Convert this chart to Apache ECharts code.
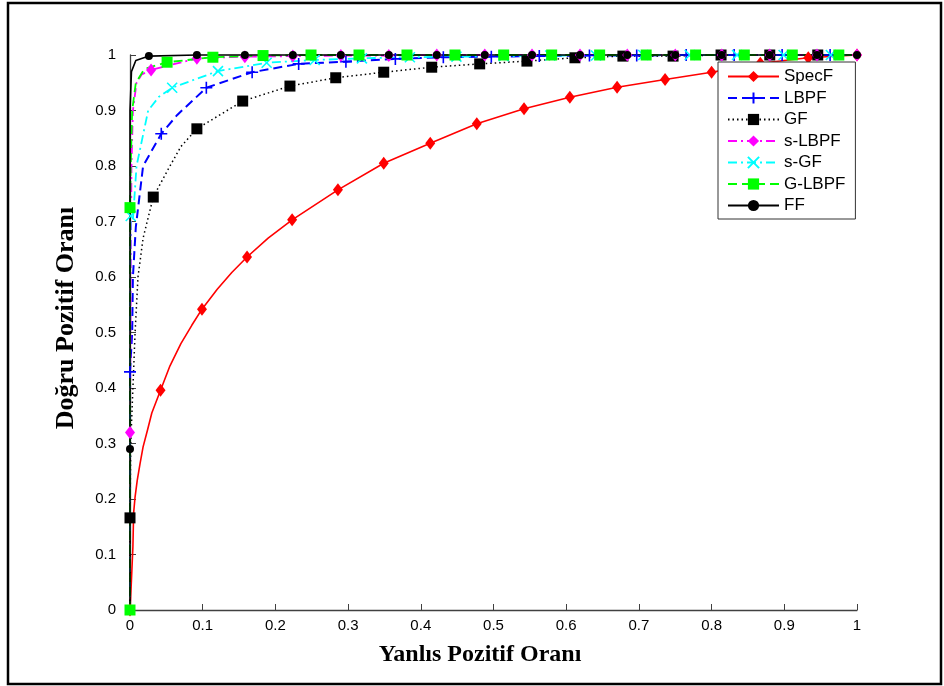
<!DOCTYPE html>
<html><head><meta charset="utf-8">
<script src="https://cdn.jsdelivr.net/npm/echarts@6/dist/echarts.min.js"></script>
<style>html,body{margin:0;padding:0;background:#fff}#c{width:944px;height:686px}</style>
</head><body><div id="c"></div>
<script>
// ---- data ----
const xTicks = [0,0.1,0.2,0.3,0.4,0.5,0.6,0.7,0.8,0.9,1];
const seriesNames = ['SpecF','LBPF','GF','s-LBPF','s-GF','G-LBPF','FF'];
const xTitle = 'Yanlıs Pozitif Oranı';
const yTitle = 'Doğru Pozitif Oranı';

const specF_marks = [[0,0],[0.042,0.396],[0.099,0.542],[0.161,0.636],[0.223,0.703],[0.286,0.757],[0.349,0.805],[0.413,0.841],[0.477,0.876],[0.542,0.903],[0.605,0.924],[0.67,0.942],[0.736,0.956],[0.8,0.969],[0.867,0.985],[0.933,0.995],[1,1]];
const specF_line = [[0.002,0.054],[0.004,0.114],[0.005,0.175],[0.007,0.204],[0.010,0.234],[0.014,0.265],[0.018,0.294],[0.024,0.324],[0.030,0.355],[0.055,0.44],[0.07,0.48],[0.085,0.513],[0.12,0.578],[0.14,0.608],[0.19,0.67]];

const lbpf_marks = [[0,0.429],[0.043,0.858],[0.105,0.941],[0.168,0.969],[0.232,0.984],[0.297,0.988],[0.365,0.993],[0.431,0.996],[0.497,0.997],[0.563,0.998],[0.632,0.999],[0.697,0.999],[0.765,1],[0.831,1],[0.897,1],[0.963,1]];
const lbpf_line = [[0,0],[0.003,0.5],[0.004,0.6],[0.008,0.69],[0.018,0.8],[0.065,0.892],[1,1]];

const gf_marks = [[0,0.166],[0.032,0.744],[0.092,0.867],[0.155,0.917],[0.22,0.944],[0.283,0.959],[0.349,0.969],[0.415,0.978],[0.481,0.984],[0.546,0.989],[0.612,0.995],[0.678,0.998],[0.747,0.998],[0.813,1],[0.88,1],[0.946,1]];
const gf_line = [[0,0],[0.001,0.3],[0.004,0.4],[0.007,0.5],[0.011,0.6],[0.018,0.67],[0.052,0.793],[0.07,0.835],[1,1]];

const slbpf_marks = [[0,0.32],[0.029,0.973],[0.092,0.994],[0.158,0.997],[0.224,0.998],[0.29,0.999],[0.356,0.999],[0.422,1],[0.488,1],[0.553,1],[0.619,1],[0.684,1],[0.75,1],[0.814,1],[0.88,1],[0.945,1],[1,1]];
const slbpf_line = [[0,0],[0.001,0.6],[0.002,0.8],[0.004,0.9],[0.009,0.95],[0.016,0.965]];

const sgf_marks = [[0.001,0.71],[0.058,0.941],[0.121,0.971],[0.188,0.986],[0.254,0.991],[0.319,0.994],[0.385,0.996],[0.449,0.997],[0.514,0.998],[0.578,0.999],[0.641,0.999],[0.706,1],[0.77,1],[0.835,1],[0.899,1],[0.964,1]];
const sgf_line = [[0,0],[0,0.5],[0.0005,0.65],[0.004,0.703],[0.009,0.8],[0.025,0.9],[0.04,0.925],[1,1]];

const glbpf_marks = [[0,0],[0,0.725],[0.051,0.987],[0.114,0.996],[0.183,0.999],[0.249,1],[0.315,1],[0.381,1],[0.447,1],[0.514,1],[0.58,1],[0.646,1],[0.71,1],[0.778,1],[0.845,1],[0.911,1],[0.975,1]];
const glbpf_line = [[0.001,0.8],[0.003,0.9],[0.008,0.95],[0.02,0.975],[1,1]];

const ff_marks = [[0,0.29],[0.026,0.998],[0.092,1],[0.158,1],[0.224,1],[0.29,1],[0.356,1],[0.422,1],[0.488,1],[0.553,1],[0.619,1],[0.684,1],[0.75,1],[0.814,1],[0.88,1],[0.945,1],[1,1]];
const ff_line = [[0,0],[0,0.9],[0.002,0.97],[0.008,0.99]];

// ---- build ----
function build(marks, line){
  const d = marks.map(p=>({v:p,m:true})).concat(line.map(p=>({v:p,m:false})));
  d.sort((a,b)=>(a.v[0]-b.v[0]) || (a.v[1]-b.v[1]));
  return d.map(o=>o.m ? {value:o.v} : {value:o.v, symbol:'none'});
}
const PLUS = 'path://M5,0L5,10M0,5L10,5';
const CROSS = 'path://M0,0L10,10M10,0L0,10';

function mk(name, marks, line, color, type, width, symbol, size, stroke){
  return {
    name, type:'line', data: build(marks, line),
    symbol, symbolSize:size, showSymbol:true, clip:false,
    lineStyle:{color, type, width},
    itemStyle: stroke ? {color:'rgba(0,0,0,0)', borderColor:color, borderWidth:1.6} : {color, borderColor:color, borderWidth:0},
    emphasis:{disabled:true}
  };
}

const series = [
  mk(seriesNames[0], specF_marks, specF_line, '#ff0000', 'solid', 1.6, 'diamond', [10,13], false),
  mk(seriesNames[1], lbpf_marks, lbpf_line, '#0000ff', [9,5], 2, PLUS, 12, true),
  mk(seriesNames[2], gf_marks, gf_line, '#000000', [1.5,3], 1.5, 'rect', 11, false),
  mk(seriesNames[3], slbpf_marks, slbpf_line, '#ff00ff', [9,4,2,4], 1.8, 'diamond', [10,13], false),
  mk(seriesNames[4], sgf_marks, sgf_line, '#00ffff', [9,4,2,4], 1.8, CROSS, 10, true),
  mk(seriesNames[5], glbpf_marks, glbpf_line, '#00ff00', [9,5], 1.8, 'rect', 11, false),
  mk(seriesNames[6], ff_marks, ff_line, '#000000', 'solid', 1.6, 'circle', 8, false)
];

const chart = echarts.init(document.getElementById('c'), null, {renderer:'canvas'});
const axisCommon = {
  type:'value', min:0, max:1, interval:0.1,
  axisLine:{show:true, onZero:false, lineStyle:{color:'#404040', width:1.3}},
  axisTick:{show:true, inside:true, length:6, lineStyle:{color:'#404040'}},
  splitLine:{show:false},
  axisLabel:{color:'#000', fontFamily:'Liberation Sans, Arial', fontSize:15}
};
const titleFont = 'Liberation Serif, Times New Roman';
chart.setOption({
  animation:false,
  backgroundColor:'#fff',
  grid:{left:130, right:87, top:55, bottom:76, containLabel:false},
  xAxis: Object.assign({}, axisCommon, {
     axisLabel:Object.assign({}, axisCommon.axisLabel, {margin:8, formatter:v=>String(v)})}),
  yAxis: Object.assign({}, axisCommon, {
     axisLabel:Object.assign({}, axisCommon.axisLabel, {margin:14, formatter:v=>String(v)})}),
  legend:{
    orient:'vertical', left:718, top:62, data:seriesNames,
    itemWidth:51, itemHeight:14, itemGap:4.5,
    padding:[6,10,5,9],
    backgroundColor:'#fff', borderColor:'#333', borderWidth:1,
    textStyle:{fontFamily:'Liberation Sans, Arial', fontSize:17, color:'#000'},
    selectedMode:false
  },
  graphic:[
    {type:'rect', shape:{x:8, y:3, width:933, height:681}, style:{fill:'none', stroke:'#000', lineWidth:2.5}, silent:true, z:100},
    {type:'text', x:480, y:655, silent:true, style:{text:xTitle, font:'bold 24px '+titleFont, fill:'#000', align:'center', verticalAlign:'middle'}},
    {type:'text', x:66, y:318, rotation:Math.PI/2, silent:true, style:{text:yTitle, font:'bold 26px '+titleFont, fill:'#000', align:'center', verticalAlign:'middle'}}
  ],
  series
});
</script></body></html>
